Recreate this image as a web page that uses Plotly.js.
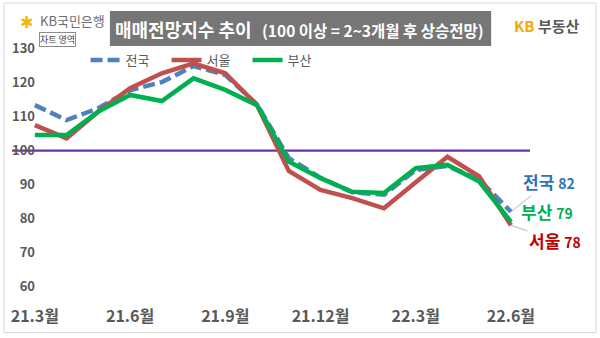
<!DOCTYPE html>
<html><head><meta charset="utf-8">
<script src="https://cdn.plot.ly/plotly-3.0.1.min.js"></script>
<style>html,body{margin:0;padding:0;background:#fff;}#chart{width:600px;height:338px;}</style>
</head><body><div id="chart"></div>
<script>
const months = ['21.3','21.4','21.5','21.6','21.7','21.8','21.9','21.10','21.11','21.12','22.1','22.2','22.3','22.4','22.5','22.6'];
const tickMonths = ['21.3','21.6','21.9','21.12','22.3','22.6'];
const tickText = ['21.3월','21.6월','21.9월','21.12월','22.3월','22.6월'];
const nationName = '전국', seoulName = '서울', busanName = '부산';
const nation = [113.4, 109.0, 112.5, 117.8, 120.2, 124.9, 122.3, 113.6, 97.8, 92.0, 87.7, 87.0, 94.3, 95.5, 91.4, 82];
const seoul  = [107.5, 103.6, 111.5, 118.4, 122.8, 125.7, 122.8, 113.4, 94.0, 88.4, 86.0, 83.0, 90.7, 98.2, 92.4, 78];
const busan  = [104.6, 104.6, 111.5, 116.4, 114.6, 121.3, 117.9, 113.4, 96.8, 91.9, 87.9, 87.5, 94.8, 95.8, 90.9, 79];
const yTicks = [60, 70, 80, 90, 100, 110, 120, 130];
const baseline = 100;

const F = '"Noto Sans CJK KR", "Noto Sans", sans-serif';
const last = months.length - 1;

const traces = [
  {x: months, y: nation, name: nationName, type: 'scatter', mode: 'lines',
   line: {color: '#4F81BD', width: 4.5, dash: '12px,5px'}},
  {x: months, y: seoul, name: seoulName, type: 'scatter', mode: 'lines',
   line: {color: '#C0504D', width: 4.5}},
  {x: months, y: busan, name: busanName, type: 'scatter', mode: 'lines',
   line: {color: '#00B050', width: 4.5}}
];
const layout = {
  width: 600, height: 338,
  margin: {l: 12, r: 70, t: 42, b: 37.7, pad: 0},
  paper_bgcolor: '#ffffff', plot_bgcolor: 'rgba(0,0,0,0)',
  font: {family: F, color: '#595959'},
  showlegend: true,
  legend: {orientation: 'h', x: 0.142, y: 0.93, yanchor: 'middle', xanchor: 'left',
    font: {size: 13, color: '#595959', family: F}, entrywidth: 36, entrywidthmode: 'pixels',
    bgcolor: 'rgba(0,0,0,0)', traceorder: 'normal'},
  xaxis: {type: 'category', range: [-0.72, 15.6], tickvals: tickMonths, ticktext: tickText,
    showgrid: false, zeroline: false, showline: false, ticks: '',
    tickfont: {size: 16, color: '#595959', family: F, weight: 'bold'}, ticklabelstandoff: 5},
  yaxis: {range: [56, 132], tickvals: yTicks, showgrid: false, zeroline: false, showline: false,
    ticks: '', tickfont: {size: 13, color: '#595959', family: F, weight: 'bold'},
    ticklabelstandoff: -24},
  shapes: [
    {type: 'line', xref: 'paper', x0: 0, x1: 1, yref: 'y', y0: baseline, y1: baseline,
     line: {color: '#7030A0', width: 2.2}, layer: 'below'},
    {type: 'rect', xref: 'paper', yref: 'paper', x0: 0.189, x1: 0.925, y0: 0.9845, y1: 1.12,
     fillcolor: '#767676', line: {width: 0}, layer: 'below'},
    {type: 'rect', xref: 'paper', yref: 'paper', x0: -0.0154, x1: 1.1274, y0: -0.1266, y1: 1.151,
     fillcolor: 'rgba(0,0,0,0)', line: {color: '#d9d9d9', width: 1}}
  ],
  annotations: [
    {xref: 'paper', yref: 'paper', x: 0.195, y: 1.052, xanchor: 'left', yanchor: 'middle', showarrow: false,
     text: '<b>매매전망지수 추이</b>', font: {size: 18, color: '#ffffff', family: F}},
    {xref: 'paper', yref: 'paper', x: 0.478, y: 1.046, xanchor: 'left', yanchor: 'middle', showarrow: false,
     text: '<b>(100 이상 = 2~3개월 후 상승전망)</b>', font: {size: 15.5, color: '#ffffff', family: F}},
    {xref: 'paper', yref: 'paper', x: 0.0116, y: 1.083, xanchor: 'left', yanchor: 'middle', showarrow: false,
     text: '✱', font: {size: 16, color: '#f5b800', family: F}},
    {xref: 'paper', yref: 'paper', x: 0.05, y: 1.083, xanchor: 'left', yanchor: 'middle', showarrow: false,
     text: 'KB국민은행', font: {size: 13, color: '#6e6e6e', family: F}},
    {xref: 'paper', yref: 'paper', x: 0.087, y: 1.008, xanchor: 'center', yanchor: 'middle', showarrow: false,
     text: '차트 영역', font: {size: 9, color: '#404040', family: F},
     bgcolor: '#ffffff', bordercolor: '#8c8c8c', borderwidth: 1, borderpad: 0},
    {xref: 'paper', yref: 'paper', x: 1.1, y: 1.065, xanchor: 'right', yanchor: 'middle', showarrow: false,
     text: '<b><span style="color:#f5a800">KB</span> 부동산</b>', font: {size: 15, color: '#595959', family: F}},
    {x: last, y: nation[last], xref: 'x', yref: 'y', showarrow: true, arrowhead: 0,
     arrowwidth: 0.8, arrowcolor: '#a6a6a6', ax: 38, ay: -30,
     text: '<b>' + nationName + ' <span style="font-size:14px">' + nation[last] + '</span></b>',
     font: {size: 17, color: '#2E75B6', family: F}},
    {x: last, y: busan[last], xref: 'x', yref: 'y', showarrow: false,
     xshift: 36, yshift: 10,
     text: '<b>' + busanName + ' <span style="font-size:14px">' + busan[last] + '</span></b>',
     font: {size: 17, color: '#00B050', family: F}},
    {x: last, y: seoul[last], xref: 'x', yref: 'y', showarrow: true, arrowhead: 0,
     arrowwidth: 0.8, arrowcolor: '#a6a6a6', ax: 44, ay: 15,
     text: '<b>' + seoulName + ' <span style="font-size:14px">' + seoul[last] + '</span></b>',
     font: {size: 17, color: '#C00000', family: F}}
  ]
};
Plotly.newPlot('chart', traces, layout, {displayModeBar: false, staticPlot: true});
</script></body></html>
